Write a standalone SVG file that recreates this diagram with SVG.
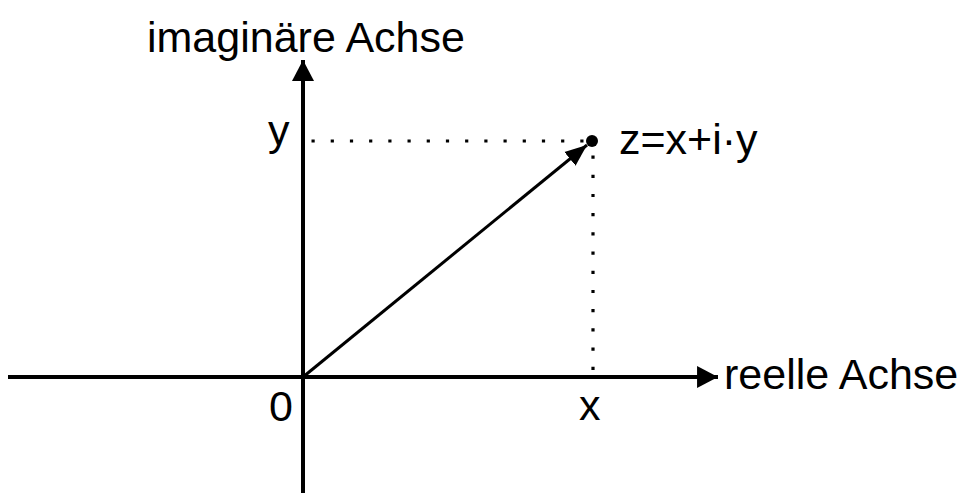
<svg xmlns="http://www.w3.org/2000/svg" width="967" height="494" viewBox="0 0 967 494">
<style>
text{font-family:"Liberation Sans",Arial,sans-serif;font-size:43px;fill:#000}
.axis{stroke:#000;stroke-width:4;fill:none}
.vec{stroke:#000;stroke-width:3;fill:none}
.dot{stroke:#000;stroke-width:3.2;fill:none;stroke-dasharray:3.2 16}
</style>
<defs>
<marker id="ah" markerUnits="userSpaceOnUse" markerWidth="22" markerHeight="22" refX="20" refY="10.5" orient="auto" viewBox="0 0 20 21">
<path d="M0,0 L20,10.5 L0,21 Z" fill="#000"/>
</marker>
<marker id="vh" markerUnits="userSpaceOnUse" markerWidth="22" markerHeight="22" refX="20" refY="8" orient="auto" viewBox="0 0 20 16">
<path d="M0,0 L20,8 L0,16 Z" fill="#000"/>
</marker>
</defs>
<g id="connectors">
<line class="axis" x1="303" y1="493" x2="303" y2="60" marker-end="url(#ah)"/>
<line class="axis" x1="8" y1="377" x2="718" y2="377" marker-end="url(#ah)"/>
<line class="vec" x1="303" y1="377" x2="587" y2="145" marker-end="url(#vh)"/>
<line class="dot" x1="311.5" y1="141" x2="590" y2="141"/>
<line class="dot" x1="593" y1="155.5" x2="593" y2="377"/>
</g>
<g id="point"><circle cx="592" cy="141" r="6" fill="#000"/></g>
<g id="label-imag"><text x="147" y="52">imaginäre Achse</text></g>
<g id="label-real"><text x="724" y="389">reelle Achse</text></g>
<g id="label-y"><text x="268" y="145">y</text></g>
<g id="label-z"><text x="619" y="154">z=x+i·y</text></g>
<g id="label-0"><text x="269" y="421">0</text></g>
<g id="label-x"><text x="579" y="420">x</text></g>
</svg>
